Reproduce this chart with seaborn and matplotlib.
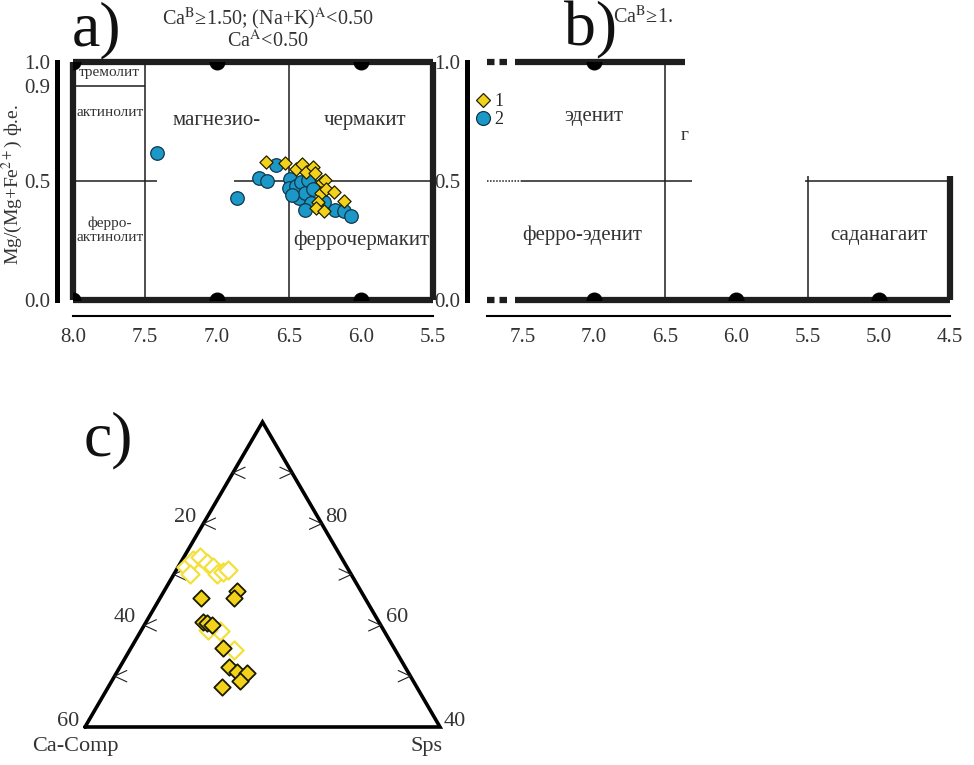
import numpy as np
import pandas as pd
import matplotlib
matplotlib.use("Agg")
import matplotlib.pyplot as plt
from matplotlib.lines import Line2D
import seaborn as sns

sns.set_theme(style="white")
plt.rcParams['font.family'] = ['Liberation Serif', 'DejaVu Serif']
plt.rcParams['mathtext.fontset'] = 'stix'

# --- data: panel a (Si apfu vs Mg/(Mg+Fe2+)) ---
si_1 = [6.66, 6.53, 6.45, 6.41, 6.38, 6.33, 6.32, 6.27, 6.25, 6.28, 6.24, 6.19, 6.12, 6.30, 6.31, 6.26]
mg_1 = [0.579, 0.577, 0.549, 0.570, 0.536, 0.560, 0.532, 0.494, 0.504, 0.448, 0.465, 0.455, 0.416, 0.413, 0.385, 0.374]
si_2 = [7.42, 6.59, 6.71, 6.65, 6.86, 6.49, 6.50, 6.45, 6.42, 6.37, 6.43, 6.39, 6.33, 6.35, 6.39, 6.26,
        6.18, 6.12, 6.07, 6.48]
mg_2 = [0.619, 0.567, 0.514, 0.500, 0.427, 0.507, 0.469, 0.479, 0.497, 0.504, 0.427, 0.448, 0.465, 0.409,
        0.378, 0.413, 0.378, 0.375, 0.353, 0.441]

# --- data: panel c (garnet ternary, Ca-Comp / Sps in %) ---
ca_filled = [27.7, 21.0, 22.2, 29.7, 29.2, 28.6, 29.0, 29.7, 28.9, 27.4, 29.3, 32.9]
sps_filled = [6.9, 12.3, 12.4, 9.6, 10.4, 11.4, 15.5, 18.5, 20.2, 22.0, 21.7, 19.3]
ca_open = [27.1, 25.3, 23.9, 23.3, 22.6, 27.2, 22.7, 21.4, 20.3, 27.8, 27.3, 29.7]
sps_open = [1.4, 1.9, 2.7, 4.5, 5.9, 2.7, 7.2, 8.2, 8.8, 13.4, 17.5, 11.3]

a_xticks = [8.0, 7.5, 7.0, 6.5, 6.0, 5.5]
a_yticks = [0.0, 0.5, 0.9, 1.0]
b_xticks = [7.75, 7.5, 7.0, 6.5, 6.0, 5.5, 5.0, 4.5]
b_xlabels = ['', '7.5', '7.0', '6.5', '6.0', '5.5', '5.0', '4.5']
b_yticks = [0.0, 0.5, 1.0]
a_dots_x = [8.0, 7.0, 6.0, 8.0, 7.0, 6.0]
a_dots_y = [1.0, 1.0, 1.0, 0.0, 0.0, 0.0]
b_dots_x = [7.0, 7.0, 6.0, 5.0]
b_dots_y = [1.0, 0.0, 0.0, 0.0]

YEL = '#F3D21C'
BLUE = '#1B98C8'
INK = '#1e1e1e'
W, H = 974, 765


def box(x0, y0, x1, y1):
    return [x0 / W, 1 - y1 / H, (x1 - x0) / W, (y1 - y0) / H]


fig = plt.figure(figsize=(W / 100, H / 100), dpi=100)


def style_axes(ax, xlim, left_out, xticks, xlabels, yticks):
    ax.set_xlim(*xlim)
    ax.set_ylim(0, 1)
    ax.set_facecolor('white')
    for s in ['top', 'right']:
        ax.spines[s].set_visible(False)
    ax.spines['left'].set_position(('outward', left_out))
    ax.spines['left'].set_linewidth(3.6)
    ax.spines['left'].set_color('black')
    ax.spines['bottom'].set_position(('outward', 11.5))
    ax.spines['bottom'].set_linewidth(1.5)
    ax.spines['bottom'].set_color('black')
    ax.set_xticks(xticks)
    ax.set_xticklabels(xlabels)
    ax.set_yticks(yticks)
    ax.set_yticklabels([f"{v:.1f}" for v in yticks])
    ax.tick_params(axis='x', direction='in', length=7, width=1.5, labelsize=15,
                   pad=9, colors='black', labelcolor='#333333')
    ax.tick_params(axis='y', direction='out', length=4, width=3, labelsize=15,
                   pad=1, colors='black', labelcolor='#333333')
    ax.set_xlabel('')
    ax.set_ylabel('')
    ax.grid(False)


def seg(ax, x0, x1, y0, y1, lw=1.1, ls='-', color=INK, clip=False):
    ax.plot([x0, x1], [y0, y1], color=color, lw=lw, ls=ls, clip_on=clip,
            solid_capstyle='butt', zorder=2)


# ================= panel a =================
ax_a = fig.add_axes(box(73, 62, 433, 300))
style_axes(ax_a, (8.0, 5.5), 11.5, a_xticks, [f"{v:.1f}" for v in a_xticks], a_yticks)

# thick frame
seg(ax_a, 8.0, 5.5, 1.0, 1.0, lw=4.5)
seg(ax_a, 8.0, 5.5, 0.0, 0.0, lw=4.5)
seg(ax_a, 8.0, 8.0, 0.0, 1.0, lw=4.5)
seg(ax_a, 5.5, 5.5, 0.0, 1.0, lw=4.5)
# field boundaries
seg(ax_a, 7.5, 7.5, 0.0, 1.0)
seg(ax_a, 6.5, 6.5, 0.0, 1.0)
seg(ax_a, 8.0, 7.5, 0.9, 0.9)
seg(ax_a, 8.0, 7.42, 0.5, 0.5)
seg(ax_a, 6.88, 5.5, 0.5, 0.5)

ax_a.scatter(a_dots_x, a_dots_y, s=110, color='black', zorder=4, clip_on=True)

df1 = pd.DataFrame({'si': si_1, 'mg': mg_1})
df2 = pd.DataFrame({'si': si_2, 'mg': mg_2})
sns.scatterplot(data=df2, x='si', y='mg', ax=ax_a, marker='o', s=95, color=BLUE,
                edgecolor='#10384a', linewidth=0.9, zorder=5)
sns.scatterplot(data=df1, x='si', y='mg', ax=ax_a, marker='D', s=45, color=YEL,
                edgecolor='#222200', linewidth=0.9, zorder=6)
ax_a.set_xlabel('')
ax_a.set_ylabel('')

txt = dict(ha='center', va='center', color='#333333')
ax_a.text(7.745, 0.955, 'тремолит', fontsize=11, **txt)
ax_a.text(7.745, 0.786, 'актинолит', fontsize=11, **txt)
ax_a.text(7.0, 0.756, 'магнезио-', fontsize=15, **txt)
ax_a.text(5.97, 0.756, 'чермакит', fontsize=15, **txt)
ax_a.text(7.745, 0.294, 'ферро-\nактинолит', fontsize=11, linespacing=1.15, **txt)
ax_a.text(6.0, 0.252, 'феррочермакит', fontsize=15, **txt)

fig.text(268 / W, 1 - 19 / H, 'Ca$^{\\mathrm{B}}$≥1.50; (Na+K)$^{\\mathrm{A}}$<0.50',
         ha='center', va='center', fontsize=14.5, color='#333333')
fig.text(268 / W, 1 - 41 / H, 'Ca$^{\\mathrm{A}}$<0.50',
         ha='center', va='center', fontsize=14.5, color='#333333')
fig.text(96 / W, 1 - 30 / H, 'a)', ha='center', va='center', fontsize=46, color='#111111')
fig.text(12 / W, 1 - 185 / H, 'Mg/(Mg+Fe$^{2+}$) ф.е.', rotation=90, ha='center',
         va='center', fontsize=14, color='#333333')

# ================= panel b =================
ax_b = fig.add_axes(box(487, 62, 950, 300))
style_axes(ax_b, (7.75, 4.5), 14.4, b_xticks, b_xlabels, b_yticks)

seg(ax_b, 7.75, 7.59, 1.0, 1.0, lw=4.5, ls=(0, (1.2, 0.8)))
seg(ax_b, 7.55, 6.36, 1.0, 1.0, lw=4.5)
seg(ax_b, 7.75, 7.59, 0.0, 0.0, lw=4.5, ls=(0, (1.2, 0.8)))
seg(ax_b, 7.55, 4.5, 0.0, 0.0, lw=4.5)
seg(ax_b, 4.5, 4.5, 0.0, 0.52, lw=4.5)
seg(ax_b, 6.5, 6.5, 0.0, 1.0)
seg(ax_b, 5.5, 5.5, 0.0, 0.52)
seg(ax_b, 7.75, 7.51, 0.5, 0.5, ls=(0, (1, 1)))
seg(ax_b, 7.51, 6.31, 0.5, 0.5)
seg(ax_b, 5.52, 4.5, 0.5, 0.5)

ax_b.scatter(b_dots_x, b_dots_y, s=110, color='black', zorder=4, clip_on=True)

ax_b.text(7.0, 0.77, 'эденит', fontsize=15, **txt)
ax_b.text(7.08, 0.27, 'ферро-эденит', fontsize=15, **txt)
ax_b.text(5.0, 0.27, 'саданагаит', fontsize=15, **txt)
ax_b.text(6.36, 0.69, 'г', fontsize=14, **txt)

handles = [Line2D([], [], ls='', marker='D', ms=7, mfc=YEL, mec='#222200', mew=0.9),
           Line2D([], [], ls='', marker='o', ms=10, mfc=BLUE, mec='#10384a', mew=0.9)]
ax_b.legend(handles, ['1', '2'], loc='upper left', bbox_to_anchor=(-0.04, 0.9),
            frameon=False, fontsize=13, handlelength=0.8, handletextpad=0.25,
            labelspacing=0.05, borderaxespad=0)

fig.text(590 / W, 1 - 30 / H, 'b)', ha='center', va='center', fontsize=46, color='#111111')
fig.text(613 / W, 1 - 17 / H, 'Ca$^{\\mathrm{B}}$≥1.', ha='left', va='center',
         fontsize=14.5, color='#333333')

# ================= panel c (ternary) =================
R3 = np.sqrt(3) / 2
ax_c = fig.add_axes(box(85, 422, 440, 727))
ax_c.set_xlim(0, 1)
ax_c.set_ylim(0, R3)
ax_c.axis('off')


def tern(ca, sps):
    c = np.asarray(ca) / 60.0
    s = np.asarray(sps) / 60.0
    t = 1 - c - s
    return s + t / 2, t * R3


ax_c.plot([0, 1, 0.5, 0], [0, 0, R3, 0], color='black', lw=2.6, clip_on=False,
          solid_joinstyle='miter', zorder=2)

# chevron ticks on both sides
for k in range(1, 6):
    t = 1 - k / 6
    lx, ly = t / 2, t * R3
    rx, ry = 1 - t / 2, t * R3
    d = 0.038
    for ang in (25, -25):
        a = np.deg2rad(ang)
        ax_c.plot([lx, lx + d * np.cos(a)], [ly, ly + d * np.sin(a)], color=INK,
                  lw=0.8, clip_on=False)
        ax_c.plot([rx, rx - d * np.cos(a)], [ry, ry + d * np.sin(a)], color=INK,
                  lw=0.8, clip_on=False)

xo, yo = tern(ca_open, sps_open)
xf, yf = tern(ca_filled, sps_filled)
sns.scatterplot(x=xo, y=yo, ax=ax_c, marker='D', s=85, facecolor='white',
                edgecolor='#F4E03A', linewidth=1.6, zorder=4)
sns.scatterplot(x=xf, y=yf, ax=ax_c, marker='D', s=70, color=YEL,
                edgecolor='#1a1a00', linewidth=1.3, zorder=5)
ax_c.set_xlabel('')
ax_c.set_ylabel('')

tk = dict(fontsize=16, color='#333333', va='center')
fig.text(185 / W, 1 - 517 / H, '20', ha='center', **tk)
fig.text(125 / W, 1 - 618 / H, '40', ha='center', **tk)
fig.text(336 / W, 1 - 517 / H, '80', ha='center', **tk)
fig.text(397 / W, 1 - 618 / H, '60', ha='center', **tk)
fig.text(79 / W, 1 - 722 / H, '60', ha='right', **tk)
fig.text(444 / W, 1 - 722 / H, '40', ha='left', **tk)
fig.text(75 / W, 1 - 746 / H, 'Ca-Comp', ha='center', **tk)
fig.text(426 / W, 1 - 746 / H, 'Sps', ha='center', **tk)
fig.text(108 / W, 1 - 440 / H, 'c)', ha='center', va='center', fontsize=46, color='#111111')

fig.savefig('out.png', dpi=100, facecolor='white')
